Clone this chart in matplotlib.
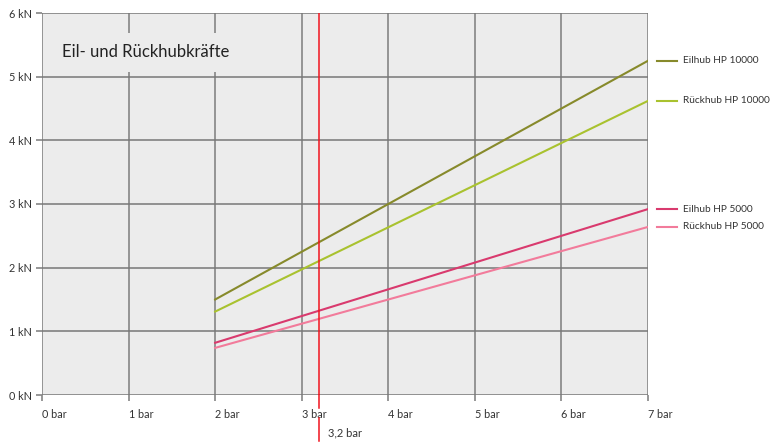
import numpy as np
import matplotlib.pyplot as plt
from matplotlib.transforms import blended_transform_factory

plt.rcParams['font.family'] = ['Lato', 'DejaVu Sans']

# Daten: Druck (bar) und Kraft (kN)
druck = np.array([2, 7])
eilhub_10000 = np.array([1.50, 5.25])
rueckhub_10000 = np.array([1.31, 4.62])
eilhub_5000 = np.array([0.82, 2.92])
rueckhub_5000 = np.array([0.74, 2.64])

serien = [
    ('Eilhub HP 10000', eilhub_10000, '#878a2b'),
    ('Rückhub HP 10000', rueckhub_10000, '#a9c22f'),
    ('Eilhub HP 5000', eilhub_5000, '#d93a6e'),
    ('Rückhub HP 5000', rueckhub_5000, '#f27b9b'),
]

x_ticks = [0, 1, 2, 3, 4, 5, 6, 7]
y_ticks = [0, 1, 2, 3, 4, 5, 6]
marke = 3.2

fig = plt.figure(figsize=(7.74, 4.47), dpi=100)
ax = fig.add_axes([42 / 774, 52 / 447, 606 / 774, 382 / 447])
ax.set_facecolor('#ececec')
ax.set_xlim(0, 7)
ax.set_ylim(0, 6)

gridfarbe = '#858585'
for s in ax.spines.values():
    s.set_visible(False)
for v in x_ticks:
    ax.axvline(v, color=gridfarbe, lw=1.2, zorder=1)
for v in y_ticks:
    ax.axhline(v, color='#777777', lw=1.1, zorder=1)

ax.set_xticks(x_ticks)
ax.set_xticklabels([f'{v} bar' for v in x_ticks])
ax.set_yticks(y_ticks)
ax.set_yticklabels([f'{v} kN' for v in y_ticks])
ax.tick_params(axis='both', colors=gridfarbe, labelcolor='#333333', labelsize=7.8, length=4, width=1.2)
ax.tick_params(axis='x', pad=6)
for lbl in ax.get_xticklabels():
    lbl.set_horizontalalignment('left')

for name, werte, farbe in serien:
    ax.plot(druck, werte, color=farbe, lw=1.5, zorder=3)
    ax.plot([7.1, 7.34], [werte[-1], werte[-1]], color=farbe, lw=1.5, clip_on=False)
    ax.text(7.41, werte[-1], name, fontsize=7.3, color='#333333', va='center', ha='left')

# Markierung 3,2 bar
rot = '#f0141e'
ax.axvline(marke, color=rot, lw=1.1, zorder=4, snap=True)
trans = blended_transform_factory(ax.transData, ax.transAxes)
ax.plot([marke, marke], [0, -0.035], color=rot, lw=1.1, transform=trans, clip_on=False)
ax.plot([marke, marke], [-0.06, -0.12], color=rot, lw=1.1, transform=trans, clip_on=False)
ax.text(marke + 0.1, -0.1, '3,2 bar', transform=trans, fontsize=8, color='#333333', va='center')

ax.text(0.23, 5.38, 'Eil- und Rückhubkräfte', fontsize=12, color='#222222', va='center', zorder=2,
        bbox=dict(facecolor='#ececec', edgecolor='none', pad=8))

plt.savefig('out.png', dpi=100)
